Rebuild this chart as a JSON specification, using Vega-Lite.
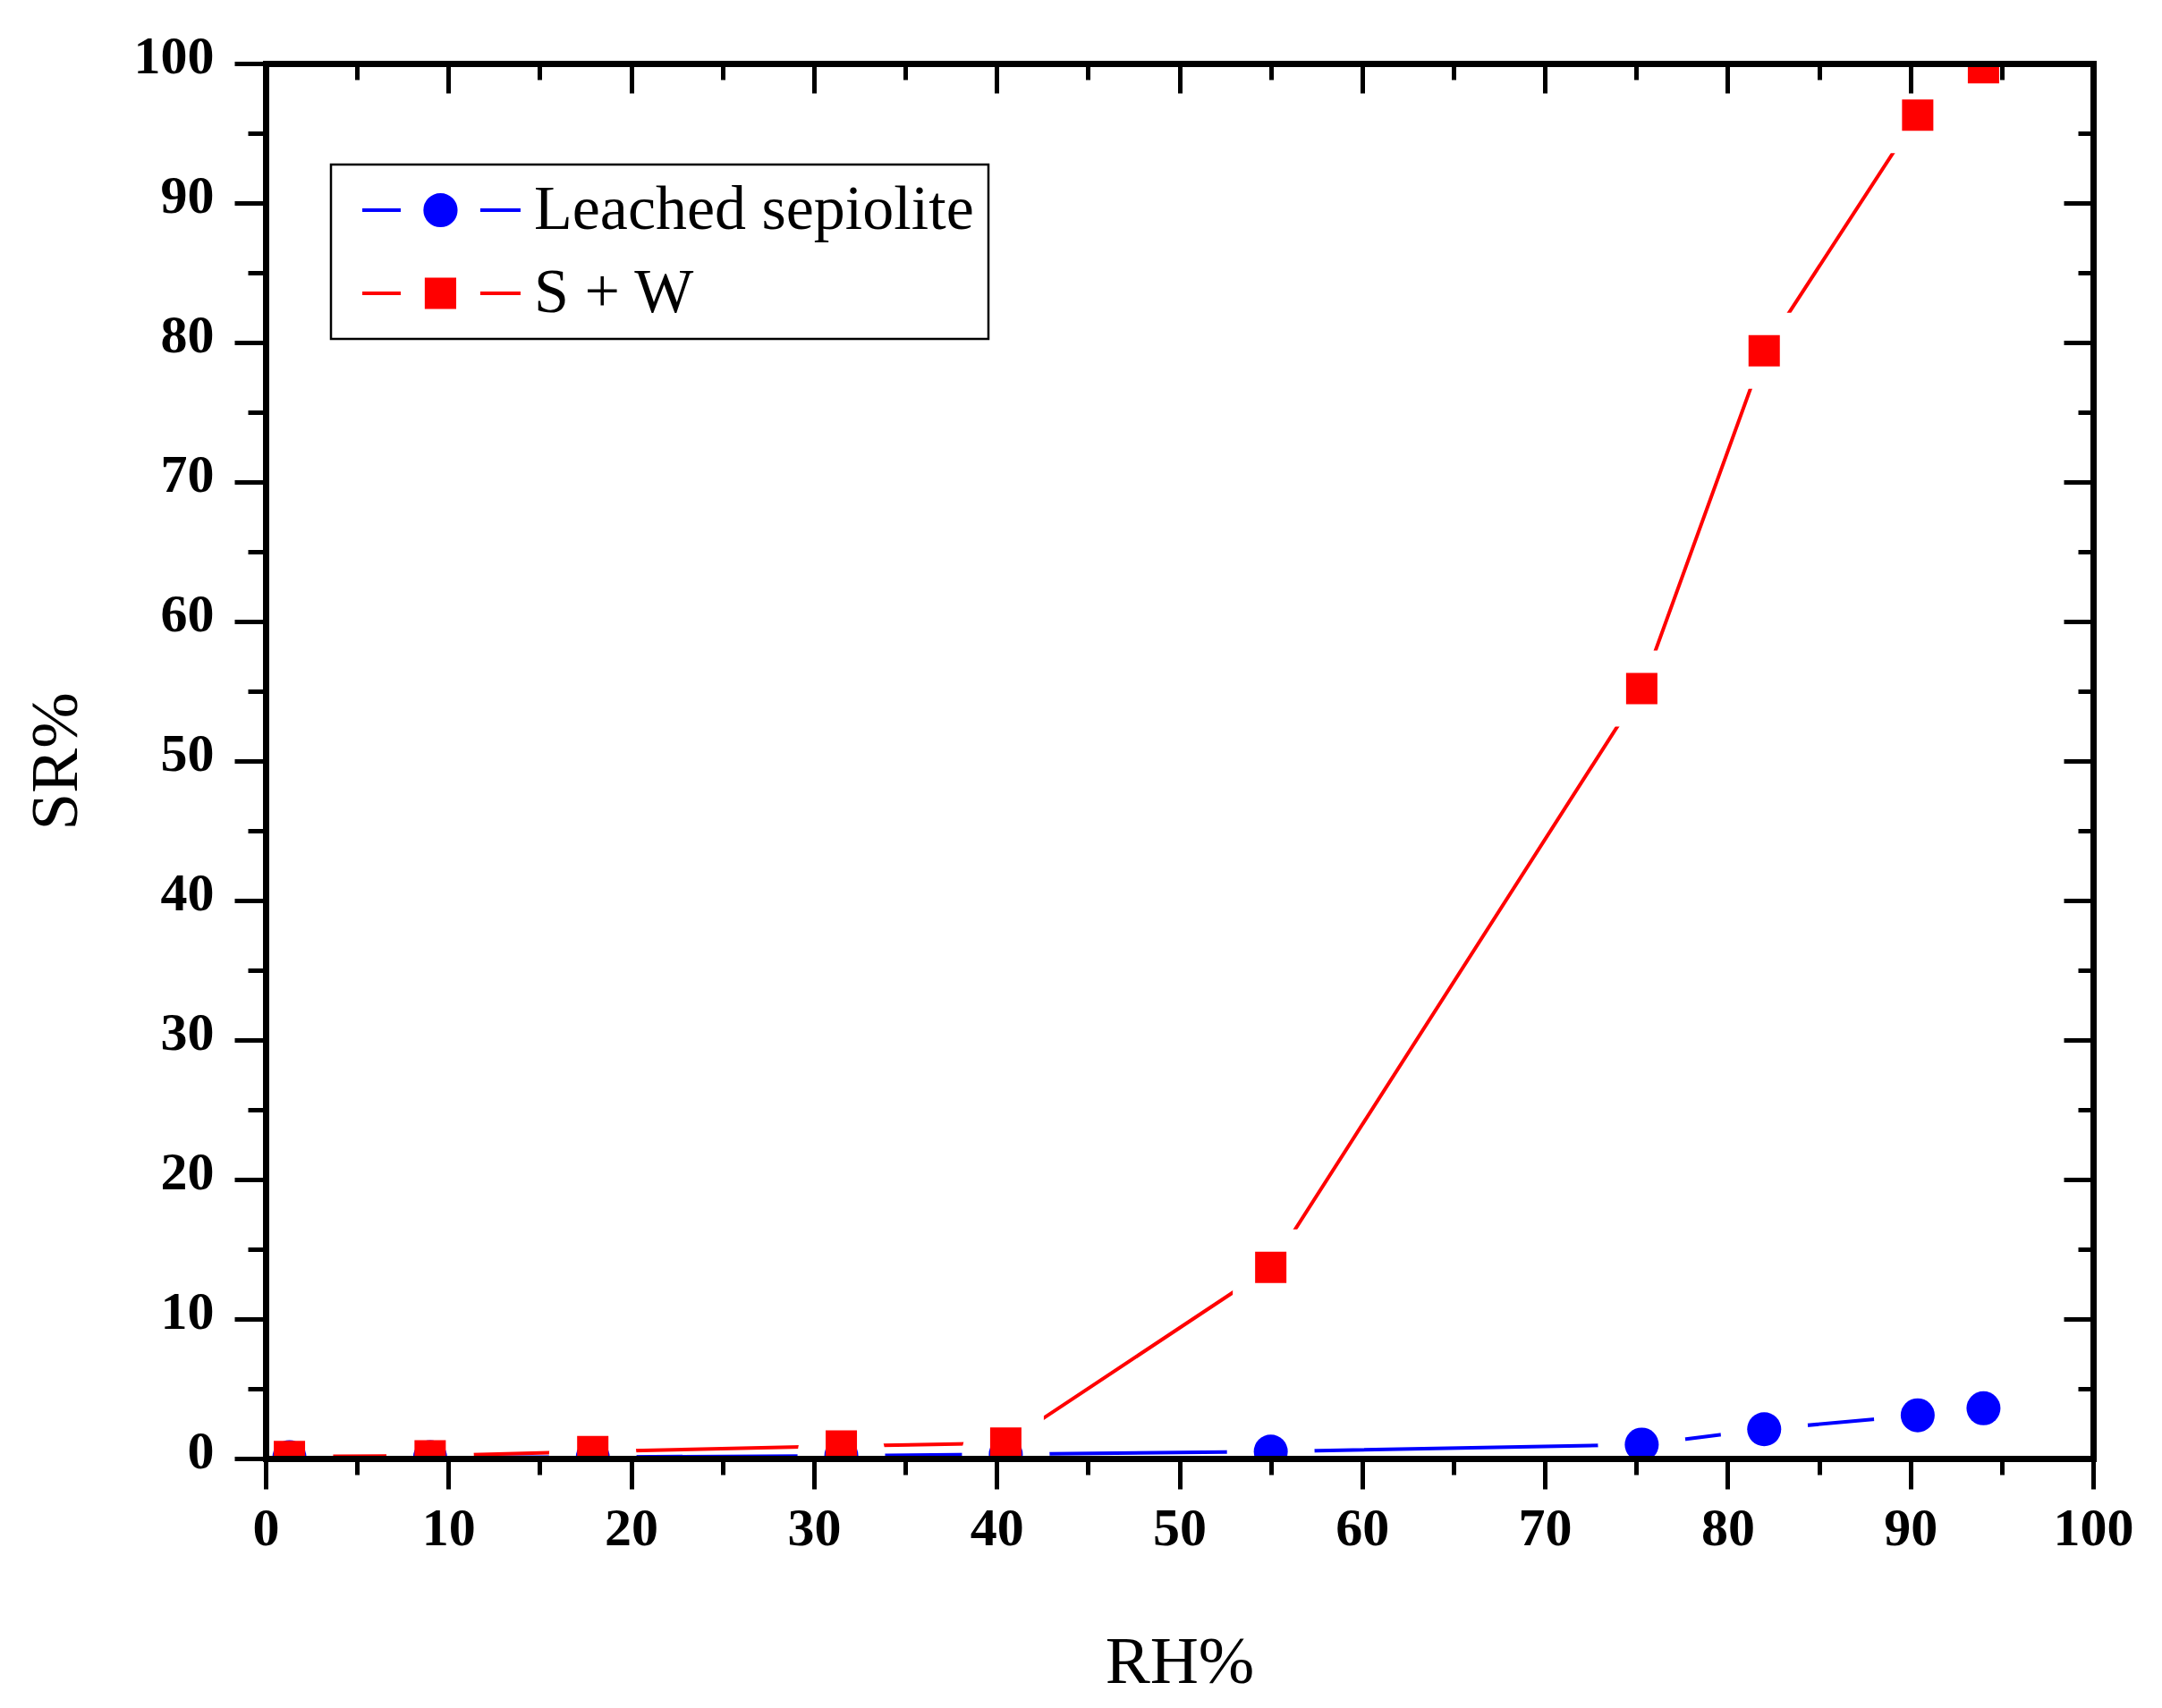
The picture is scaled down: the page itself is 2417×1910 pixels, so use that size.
{
  "$schema": "https://vega.github.io/schema/vega-lite/v6.json",
  "width": 2043,
  "height": 1560,
  "autosize": {"type": "none"},
  "padding": {"left": 297, "top": 71, "right": 77, "bottom": 279},
  "background": "white",
  "data": {
    "values": [
      {"rh": 1.3, "sr": 0.1, "series": "Leached sepiolite"},
      {"rh": 9.0, "sr": 0.1, "series": "Leached sepiolite"},
      {"rh": 17.9, "sr": 0.1, "series": "Leached sepiolite"},
      {"rh": 31.5, "sr": 0.2, "series": "Leached sepiolite"},
      {"rh": 40.5, "sr": 0.3, "series": "Leached sepiolite"},
      {"rh": 55.0, "sr": 0.5, "series": "Leached sepiolite"},
      {"rh": 75.3, "sr": 1.0, "series": "Leached sepiolite"},
      {"rh": 82.0, "sr": 2.1, "series": "Leached sepiolite"},
      {"rh": 90.4, "sr": 3.1, "series": "Leached sepiolite"},
      {"rh": 94.0, "sr": 3.6, "series": "Leached sepiolite"},
      {"rh": 1.3, "sr": 0.15, "series": "S + W"},
      {"rh": 9.0, "sr": 0.2, "series": "S + W"},
      {"rh": 17.9, "sr": 0.5, "series": "S + W"},
      {"rh": 31.5, "sr": 0.9, "series": "S + W"},
      {"rh": 40.5, "sr": 1.1, "series": "S + W"},
      {"rh": 55.0, "sr": 13.7, "series": "S + W"},
      {"rh": 75.3, "sr": 55.2, "series": "S + W"},
      {"rh": 82.0, "sr": 79.4, "series": "S + W"},
      {"rh": 90.4, "sr": 96.3, "series": "S + W"},
      {"rh": 94.0, "sr": 99.7, "series": "S + W"}
    ]
  },
  "layer": [
    {
      "mark": {"type": "line", "strokeWidth": 4, "clip": true},
      "encoding": {
        "x": {
          "field": "rh",
          "type": "quantitative",
          "scale": {"domain": [0, 100], "nice": false},
          "axis": {
            "orient": "bottom",
            "zindex": 2,
            "title": "RH%",
            "values": [0, 5, 10, 15, 20, 25, 30, 35, 40, 45, 50, 55, 60, 65, 70, 75, 80, 85, 90, 95, 100],
            "labelExpr": "datum.value % 10 === 0 ? datum.label : ''",
            "tickSize": {"condition": {"test": "datum.value % 10 === 0", "value": 34}, "value": 18},
            "labelPadding": 15,
            "titlePadding": 83
          }
        },
        "y": {
          "field": "sr",
          "type": "quantitative",
          "scale": {"domain": [0, 100], "nice": false},
          "axis": {
            "orient": "left",
            "zindex": 2,
            "title": "SR%",
            "values": [0, 5, 10, 15, 20, 25, 30, 35, 40, 45, 50, 55, 60, 65, 70, 75, 80, 85, 90, 95, 100],
            "labelExpr": "datum.value % 10 === 0 ? datum.label : ''",
            "tickSize": {"condition": {"test": "datum.value % 10 === 0", "value": 35}, "value": 20},
            "labelPadding": 23,
            "labelOffset": -8,
            "titlePadding": 48
          }
        },
        "color": {
          "field": "series",
          "type": "nominal",
          "scale": {"domain": ["Leached sepiolite", "S + W"], "range": ["#0000ff", "#ff0000"]}
        }
      }
    },
    {
      "transform": [{"filter": "datum.series === 'Leached sepiolite'"}],
      "mark": {"type": "point", "shape": "circle", "size": 1444, "filled": true, "fill": "white", "stroke": "white", "strokeWidth": 60, "opacity": 1, "clip": true},
      "encoding": {
        "x": {"field": "rh", "type": "quantitative", "axis": null},
        "y": {"field": "sr", "type": "quantitative", "axis": null}
      }
    },
    {
      "transform": [{"filter": "datum.series === 'S + W'"}],
      "mark": {"type": "point", "shape": "square", "size": 1225, "filled": true, "fill": "white", "stroke": "white", "strokeWidth": 50, "opacity": 1, "clip": true},
      "encoding": {
        "x": {"field": "rh", "type": "quantitative", "axis": null},
        "y": {"field": "sr", "type": "quantitative", "axis": null}
      }
    },
    {
      "transform": [{"filter": "datum.series === 'Leached sepiolite'"}],
      "mark": {"type": "point", "shape": "circle", "size": 1444, "filled": true, "color": "#0000ff", "opacity": 1, "clip": true},
      "encoding": {
        "x": {"field": "rh", "type": "quantitative", "axis": null},
        "y": {"field": "sr", "type": "quantitative", "axis": null}
      }
    },
    {
      "transform": [{"filter": "datum.series === 'S + W'"}],
      "mark": {"type": "point", "shape": "square", "size": 1225, "filled": true, "color": "#ff0000", "opacity": 1, "clip": true},
      "encoding": {
        "x": {"field": "rh", "type": "quantitative", "axis": null},
        "y": {"field": "sr", "type": "quantitative", "axis": null}
      }
    },
    {
      "mark": {"type": "point", "filled": false, "opacity": 0, "strokeWidth": 4},
      "encoding": {
        "x": {
          "field": "rh",
          "type": "quantitative",
          "axis": {
            "orient": "top",
            "zindex": 2,
            "title": null,
            "labels": false,
            "values": [0, 5, 10, 15, 20, 25, 30, 35, 40, 45, 50, 55, 60, 65, 70, 75, 80, 85, 90, 95, 100],
            "tickSize": {"condition": {"test": "datum.value % 10 === 0", "value": -33}, "value": -18}
          }
        },
        "y": {
          "field": "sr",
          "type": "quantitative",
          "axis": {
            "orient": "right",
            "zindex": 2,
            "title": null,
            "labels": false,
            "values": [0, 5, 10, 15, 20, 25, 30, 35, 40, 45, 50, 55, 60, 65, 70, 75, 80, 85, 90, 95, 100],
            "tickSize": {"condition": {"test": "datum.value % 10 === 0", "value": -33}, "value": -17}
          }
        },
        "color": {
          "field": "series",
          "type": "nominal",
          "legend": {
            "orient": "none",
            "legendX": 73,
            "legendY": 113,
            "title": null,
            "padding": 16,
            "rowPadding": 23,
            "strokeColor": "black",
            "symbolSize": 1444,
            "symbolStrokeWidth": 4,
            "symbolOpacity": 1,
            "labelFont": "Liberation Serif",
            "labelFontSize": 70,
            "labelColor": "black",
            "labelOffset": 141,
            "labelLimit": 0
          }
        },
        "fill": {
          "field": "series",
          "type": "nominal",
          "scale": {"domain": ["Leached sepiolite", "S + W"], "range": ["#0000ff", "#ff0000"]}
        },
        "shape": {
          "field": "series",
          "type": "nominal",
          "scale": {
            "domain": ["Leached sepiolite", "S + W"],
            "range": [
              "M-0.84,0H1.42M6.1,0H8.47M4.66,0A0.9,0.9,0,1,1,2.86,0A0.9,0.9,0,1,1,4.66,0Z",
              "M-0.84,0H1.42M6.1,0H8.47M2.94,-0.82H4.58V0.82H2.94Z"
            ]
          }
        }
      }
    }
  ],
  "resolve": {"axis": {"x": "independent", "y": "independent"}},
  "config": {
    "view": {"stroke": null},
    "legend": {"labelFont": "Liberation Serif", "strokeWidth": 2.5},
    "axis": {
      "grid": false,
      "domainColor": "black",
      "domainWidth": 7,
      "domainCap": "square",
      "tickColor": "black",
      "tickWidth": 5,
      "labelFont": "Liberation Serif",
      "labelFontWeight": "bold",
      "labelFontSize": 60,
      "labelColor": "black",
      "labelFlush": false,
      "labelOverlap": false,
      "titleFont": "Liberation Serif",
      "titleFontWeight": "normal",
      "titleFontSize": 75,
      "titleColor": "black"
    }
  }
}
